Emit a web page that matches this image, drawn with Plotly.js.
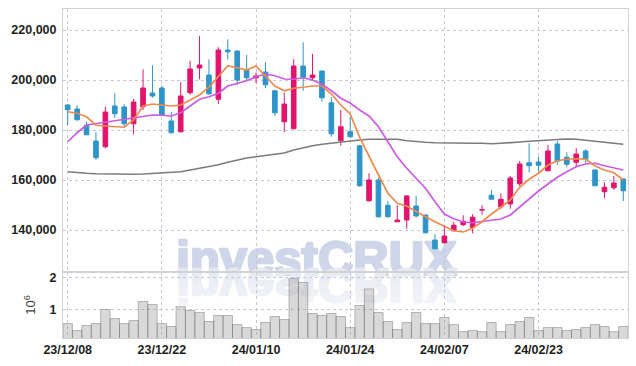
<!DOCTYPE html>
<html>
<head>
<meta charset="utf-8">
<script src="https://cdn.plot.ly/plotly-3.0.1.min.js"></script>
<style>html,body{margin:0;padding:0;background:#fff}#chart{width:636px;height:366px}</style>
</head>
<body>
<div id="chart"></div>
<script>
var dates = ['23/12/08','23/12/11','23/12/12','23/12/13','23/12/14','23/12/15','23/12/18','23/12/19','23/12/20','23/12/21',
 '23/12/22','23/12/26','23/12/27','23/12/28','24/01/02','24/01/03','24/01/04','24/01/05','24/01/08','24/01/09',
 '24/01/10','24/01/11','24/01/12','24/01/15','24/01/16','24/01/17','24/01/18','24/01/19','24/01/22','24/01/23',
 '24/01/24','24/01/25','24/01/26','24/01/29','24/01/30','24/01/31','24/02/01','24/02/02','24/02/05','24/02/06',
 '24/02/07','24/02/08','24/02/13','24/02/14','24/02/15','24/02/16','24/02/19','24/02/20','24/02/21','24/02/22',
 '24/02/23','24/02/26','24/02/27','24/02/28','24/02/29','24/03/04','24/03/05','24/03/06','24/03/07','24/03/08'];
var tickDates = ['23/12/08','23/12/22','24/01/10','24/01/24','24/02/07','24/02/23'];

var open = [190000,188400,181900,175600,173300,189600,189200,182500,189300,194800,
 196800,183600,179300,194900,204800,202000,192300,212000,211600,204100,
 200900,203200,195700,183300,180500,205600,200900,203600,190900,175700,
 179300,173700,151700,160000,149900,143300,144000,149600,146000,136000,
 134900,139700,142100,141100,148000,153900,149300,150400,158500,166900,
 167200,163700,174400,169100,167100,171600,164000,155300,156900,160400];
var high = [190400,189900,183300,179100,189300,194700,190300,192500,204300,205900,
 197600,187300,199100,207700,217600,208300,213100,216300,211800,210000,
 203000,207200,196000,194900,208300,215100,210400,203800,193100,188000,
 185300,174000,162700,160800,151600,150000,154000,153700,146200,138300,
 142000,143200,145900,146300,149900,156000,154700,161600,167600,174700,
 169300,174000,175700,171100,172700,172300,164200,159100,161600,160600];
var low = [182000,183800,177900,168100,172700,184800,181300,178300,188000,192900,
 185700,178700,179000,194100,200300,194000,190400,208300,198000,200000,
 198700,196700,185600,179200,180300,195700,200000,191300,177300,173700,
 177000,157300,151300,145000,145000,143300,140500,145000,138700,132300,
 134700,139500,141600,138700,146100,152300,148300,148500,157600,163100,
 163500,163500,166100,165100,165600,166700,157500,152700,156000,151600];
var close = [188100,184100,178100,168900,187200,186500,182500,191200,196800,193600,
 185900,178900,193600,204400,206000,194500,212000,211300,200000,200900,
 201600,198100,186900,190400,205600,201100,202000,192900,178500,181300,
 177300,157700,160000,145300,145300,144000,153600,145600,138900,132500,
 137600,141900,143500,145100,148100,152300,152300,160800,166400,165700,
 165900,171600,167600,166300,170400,168300,157700,157100,158800,155700];

var ma5 = [187300,186700,185300,181900,181600,181500,181100,184000,189600,190400,
 190100,189600,190000,192000,194000,197100,201300,205700,204900,204000,
 205600,201600,197600,195700,196700,197100,197600,197600,194400,190000,
 186400,177100,169300,162000,154700,150700,149600,147300,145300,143300,
 141600,139700,139200,140700,143300,146400,149100,152000,157100,160300,
 162700,166000,167700,168300,168500,168400,165600,164000,162900,160000];
var ma20 = [175300,178900,182000,182400,183100,183700,184300,184700,185300,186000,
 185900,185600,186900,189600,192300,193300,194700,197600,198700,199700,
 201300,202400,201700,200400,200300,200900,200000,198300,195700,192700,
 190800,188000,185600,181300,175300,169300,164700,160700,156700,151300,
 146400,144500,143200,142900,143500,144000,144400,146000,149300,152400,
 155600,158400,161100,163300,165300,166400,166700,165700,164900,164000];
var ma120 = [163300,162900,162700,162500,162400,162300,162300,162300,162400,162700,
 162900,163100,163300,164000,164700,165200,166100,167100,168000,168800,
 169300,169900,170300,170800,172000,172900,173700,174300,174800,175300,
 175700,176000,176300,176400,176400,176300,175700,175300,175100,174900,
 174800,174700,174700,174700,174700,174500,174700,174800,175200,175500,
 175700,176100,176400,176400,176300,176000,175500,175100,174700,174300];
var volume = [562000,344000,500000,562000,1000000,720000,562000,656000,1250000,1156000,
 562000,470000,1090000,970000,906000,625000,812000,812000,530000,437000,
 375000,594000,780000,687000,1970000,1840000,875000,820000,875000,780000,
 437000,1125000,1640000,906000,625000,375000,594000,906000,562000,562000,
 750000,530000,310000,344000,310000,594000,310000,530000,625000,750000,
 344000,437000,437000,344000,375000,437000,530000,470000,310000,470000];

var RED = '#e3136b', BLUE = '#2f95c8';
var data = [
  {type:'bar', x:dates, y:volume, yaxis:'y2', xaxis:'x',
   marker:{color:'rgba(150,150,150,0.36)', line:{color:'rgba(110,110,110,0.45)', width:1}},
   hoverinfo:'skip'},
  {type:'scatter', mode:'lines', x:dates, y:ma120, line:{color:'#7b7b7b', width:1.7}},
  {type:'scatter', mode:'lines', x:dates, y:ma20, line:{color:'#cc5ae6', width:1.7}},
  {type:'scatter', mode:'lines', x:dates, y:ma5, line:{color:'#ee8a4e', width:1.7}},
  {type:'candlestick', x:dates, open:open, high:high, low:low, close:close,
   increasing:{line:{color:RED, width:1}, fillcolor:RED},
   decreasing:{line:{color:BLUE, width:1}, fillcolor:BLUE},
   whiskerwidth:0}
];

var split = 66/329;
var gridc = '#c5c7d8';
var tickf = {family:'Liberation Sans', size:12.5, color:'#1e1e1e', weight:'bold'};
var WM1 = '#cfd6ea', WM2 = '#e8eaf3';
var wmLabel = function(color){
  return {type:'rect', xref:'paper', yref:'paper', x0:0, x1:0.8974, y0:split - 8/329, y1:split + 0.16,
    layer:'below', line:{width:0}, fillcolor:'rgba(0,0,0,0)',
    label:{text:'investCRUX', textposition:'bottom center', padding:0,
      font:{family:'Liberation Sans', size:49, color:color, weight:'bold'}}};
};
var layout = {
  width:636, height:366,
  margin:{l:63, r:8, t:9, b:28},
  paper_bgcolor:'#fff', plot_bgcolor:'#fff',
  showlegend:false,
  bargap:0,
  font:{family:'Liberation Sans', size:12.5, color:'#1e1e1e'},
  xaxis:{type:'category', anchor:'y2', range:[-0.5,59.5], tickvals:tickDates, ticktext:tickDates,
    showgrid:true, gridcolor:gridc, griddash:'dot', gridwidth:1,
    showline:true, linecolor:'#d2d2d2', mirror:'all', ticks:'', tickfont:tickf,
    ticklabelstandoff:0, rangeslider:{visible:false}},
  yaxis:{domain:[split,1], range:[123200,228400], tickvals:[140000,160000,180000,200000,220000],
    tickformat:',', showgrid:true, gridcolor:gridc, griddash:'dot', zeroline:false,
    showline:true, linecolor:'#d2d2d2', mirror:true, ticks:'', tickfont:tickf, ticklabelstandoff:3},
  yaxis2:{domain:[0,split], range:[112500,2166000], tickvals:[1000000,2000000], ticktext:['1','2'],
    showgrid:true, gridcolor:gridc, griddash:'dot', zeroline:false,
    showline:true, linecolor:'#d2d2d2', mirror:true, ticks:'', tickfont:tickf, ticklabelstandoff:3,
    title:{text:'10<sup>6</sup>', font:{family:'Liberation Sans', size:13, color:'#444'}, standoff:10}},
  shapes:[wmLabel(WM1), wmLabel(WM2)]
};

Plotly.newPlot('chart', data, layout, {staticPlot:true}).then(function(gd){
  var NS = 'http://www.w3.org/2000/svg';
  var svg = gd.querySelector('svg.main-svg');
  var defs = svg.querySelector('defs');
  if(!defs){ defs = document.createElementNS(NS,'defs'); svg.insertBefore(defs, svg.firstChild); }
  var lg = document.createElementNS(NS,'linearGradient');
  lg.setAttribute('id','wmfade'); lg.setAttribute('x1','0'); lg.setAttribute('y1','0');
  lg.setAttribute('x2','0'); lg.setAttribute('y2','1');
  [['0','#f5f6fa'],['0.55','#eceef5'],['1','#e1e4ef']].forEach(function(s){
    var st = document.createElementNS(NS,'stop');
    st.setAttribute('offset', s[0]); st.setAttribute('stop-color', s[1]); lg.appendChild(st);
  });
  defs.appendChild(lg);

  var found = [];
  gd.querySelectorAll('text').forEach(function(t){ if(t.textContent === 'investCRUX') found.push(t); });
  found.forEach(function(t, k){
    t.style.fontWeight = 'bold';
    t.style.stroke = k === 0 ? WM1 : 'url(#wmfade)';
    if(k === 1) t.style.fill = 'url(#wmfade)';
    t.style.strokeWidth = '2.6px';
    t.style.strokeLinejoin = 'round';
  });
  if(found.length > 1){
    var t = found[1];
    var g = document.createElementNS(NS,'g');
    t.parentNode.insertBefore(g, t);
    g.appendChild(t);
    var ctm = g.parentNode.getCTM();
    var ly = (272 - ctm.f) / ctm.d;
    g.setAttribute('transform', 'translate(0,' + (2*ly) + ') scale(1,-1)');
  }
});
</script>
</body>
</html>
